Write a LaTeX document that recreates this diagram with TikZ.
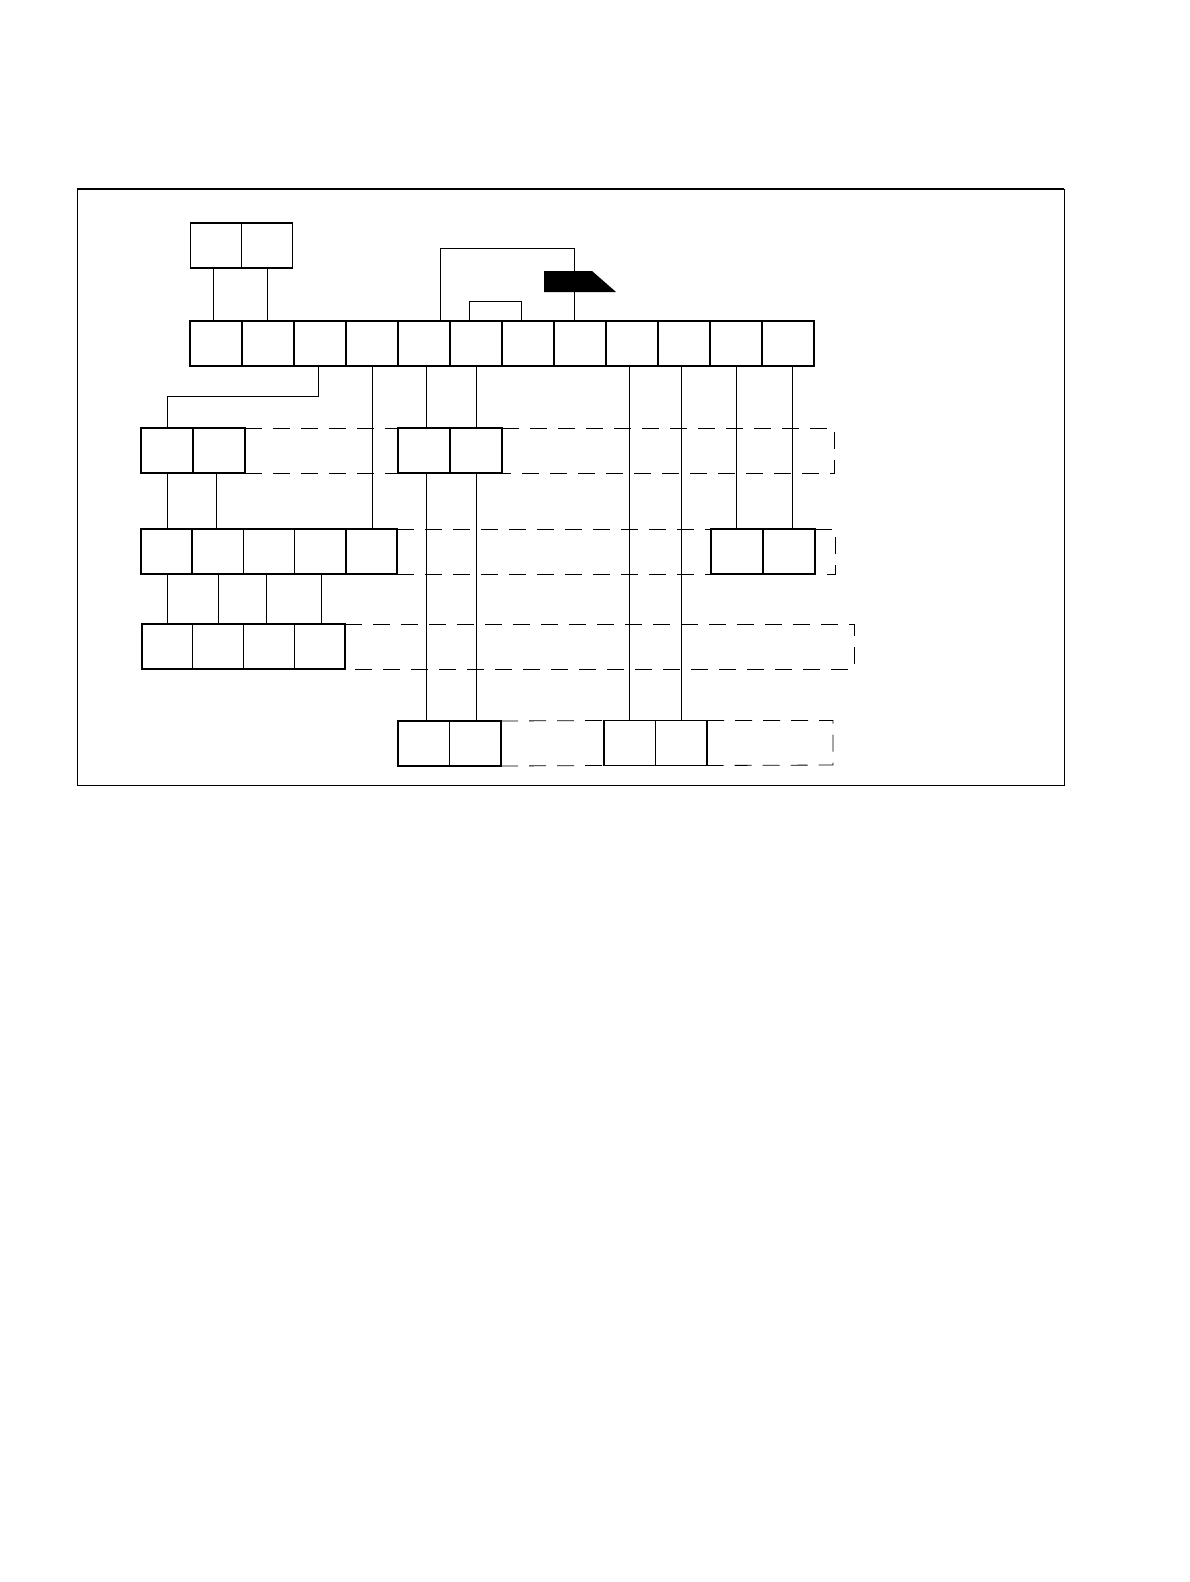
\documentclass[tikz,border=0pt]{standalone}
\usepackage{tikz}
\usetikzlibrary{positioning}
\tikzset{cell/.style={rectangle,draw,minimum width=52pt,minimum height=45pt,inner sep=0pt,outer sep=0pt,line width=1.5pt}}
\tikzset{thincell/.style={cell,line width=0.7pt}}
\tikzset{link/.style={line width=0.8pt}}
\tikzset{dashbox/.style={line width=0.8pt,dash pattern=on 17pt off 11pt}}

\begin{document}
\begin{tikzpicture}[x=1pt,y=-1pt]
        \useasboundingbox (0,0) rectangle (1190,1582);
        \draw[line width=0.8pt] (77,189) rectangle (1064,785);
        \draw[line width=1.8pt] (77,189) -- (1064,189);

        \node[cell,minimum width=51pt,anchor=north west] (top1) at (190.7,223) {};
        \node[cell,minimum width=51pt,right=0pt of top1] (top2) {};

        \node[cell,anchor=north west] (main1) at (190,321) {};
        \node[cell,right=0pt of main1] (main2) {};
        \node[cell,right=0pt of main2] (main3) {};
        \node[cell,right=0pt of main3] (main4) {};
        \node[cell,right=0pt of main4] (main5) {};
        \node[cell,right=0pt of main5] (main6) {};
        \node[cell,right=0pt of main6] (main7) {};
        \node[cell,right=0pt of main7] (main8) {};
        \node[cell,right=0pt of main8] (main9) {};
        \node[cell,right=0pt of main9] (main10) {};
        \node[cell,right=0pt of main10] (main11) {};
        \node[cell,right=0pt of main11] (main12) {};

        \node[cell,anchor=north west] (left1) at (141,428) {};
        \node[cell,right=0pt of left1] (left2) {};
        \node[cell,anchor=north west] (mid1) at (398,428) {};
        \node[cell,right=0pt of mid1] (mid2) {};

        \node[cell,minimum width=51.2pt,anchor=north west] (five1) at (141,529) {};
        \node[thincell,minimum width=51.2pt,right=0pt of five1] (five2) {};
        \node[thincell,minimum width=51.2pt,right=0pt of five2] (five3) {};
        \node[thincell,minimum width=51.2pt,right=0pt of five3] (five4) {};
        \node[cell,minimum width=51.2pt,right=0pt of five4] (five5) {};
        \node[cell,anchor=north west] (right1) at (711,529) {};
        \node[cell,right=0pt of right1] (right2) {};

        \node[thincell,minimum width=50.75pt,anchor=north west] (four1) at (142,624) {};
        \node[thincell,minimum width=50.75pt,right=0pt of four1] (four2) {};
        \node[thincell,minimum width=50.75pt,right=0pt of four2] (four3) {};
        \node[thincell,minimum width=50.75pt,right=0pt of four3] (four4) {};

        \node[cell,minimum width=51.5pt,anchor=north west] (low1) at (398,721) {};
        \node[cell,minimum width=51.5pt,right=0pt of low1] (low2) {};
        \node[cell,minimum width=51.5pt,anchor=north west] (lowr1) at (604,720.5) {};
        \node[cell,minimum width=51.5pt,right=0pt of lowr1] (lowr2) {};

        \coordinate (dash2) at (834,473);
        \coordinate (dash3) at (835,574);
        \coordinate (dash4) at (854,669);
        \coordinate (dash5) at (833,765);

        \draw[line width=1.5pt] (five1.north west) rectangle (five5.south east);
        \draw[line width=1.5pt] (four1.north west) rectangle (four4.south east);

        \fill (544,271) -- (592,271) -- (616,292) -- (544,292) -- cycle;
        \draw[link] ([xshift=16pt]main5.north) -- ++(0,-73) -| ([xshift=-6pt]main8.north);
        \draw[link] ([xshift=-7pt]main6.north) -- ++(0,-20) -| ([xshift=-7pt]main7.north);

        \draw[link] ([xshift=-3pt]top1.south) -- ([xshift=-3pt]top1.south |- main1.north);
        \draw[link] (top2.south) -- (top2.south |- main2.north);
        \draw[link] ([xshift=-2pt]main3.south) -- ++(0,30) -| (left1.north);
        \draw[link] (main4.south) -- (main4.south |- five5.north);
        \draw[link] ([xshift=2.5pt]main5.south) -- ([xshift=2.5pt]main5.south |- mid1.north);
        \draw[link] (main6.south) -- (main6.south |- mid2.north);
        \draw[link] ([xshift=2.5pt]mid1.south) -- ([xshift=2.5pt]mid1.south |- low1.north);
        \draw[link] (mid2.south) -- (mid2.south |- low2.north);
        \draw[link] (main9.south -| lowr1.north) -- (lowr1.north);
        \draw[link] (main10.south -| lowr2.north) -- (lowr2.north);
        \draw[link] (main11.south) -- (main11.south |- right1.north);
        \draw[link] ([xshift=4pt]main12.south) -- ([xshift=4pt]main12.south |- right2.north);
        \draw[link] (left1.south) -- (left1.south |- five1.north);
        \draw[link] ([xshift=-2.5pt]left2.south) -- ([xshift=-2.5pt]left2.south |- five2.north);
        \draw[link] (four1.north) -- (four1.north |- five1.south);
        \draw[link] (four2.north) -- (four2.north |- five2.south);
        \draw[link] ([xshift=-2pt]four3.north) -- ([xshift=-2pt]four3.north |- five3.south);
        \draw[link] ([xshift=1.5pt]four4.north) -- ([xshift=1.5pt]four4.north |- five4.south);

        \draw[dashbox] (left2.north east) -- (mid1.north west);
        \draw[dashbox] (left2.south east) -- (mid1.south west);
        \draw[dashbox] (mid2.north east) -| (dash2) -- (mid2.south east);
        \draw[dashbox] (five5.north east) -- (right1.north west);
        \draw[dashbox] (five5.south east) -- (right1.south west);
        \draw[dashbox] (right2.north east) -| (dash3) -- (right2.south east);
        \draw[dashbox] (four4.north east) -| (dash4) -- (four4.south east);
        \draw[dashbox] (low2.north east) -- (lowr1.north west);
        \draw[dashbox] (low2.south east) -- (lowr1.south west);
        \draw[dashbox] (lowr2.north east) -| (dash5) -- (lowr2.south east);
    \end{tikzpicture}
\end{document}
